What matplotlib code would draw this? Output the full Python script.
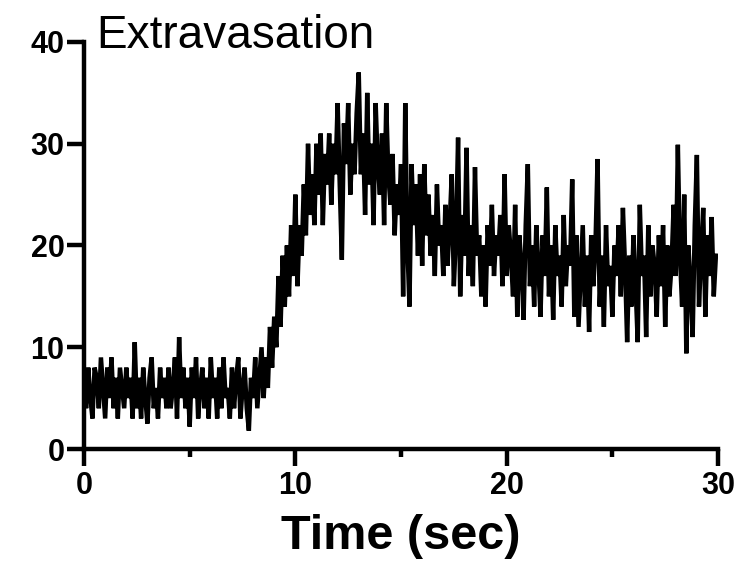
import numpy as np
import matplotlib.pyplot as plt
from matplotlib.ticker import MultipleLocator

# signal, one value every 0.1 s (0.0 .. 29.9)
extravasation = [
    6, 4, 8, 5, 3, 8, 7, 4, 9, 6,
    3, 8, 5, 9, 4, 7, 3, 8, 6, 4,
    8, 5, 7, 3, 10.5, 4, 7, 3, 8, 5,
    2.5, 7, 9, 4, 6, 3, 8, 5, 7, 4,
    8, 4, 6, 9, 3, 11, 5, 8, 4, 7,
    2.2, 8, 5, 9, 3, 6, 8, 4, 7, 3,
    9, 5, 7, 3, 8, 4, 9, 5, 6, 3,
    8, 4, 7, 9, 3, 6, 8, 4, 1.8, 7,
    5, 9, 4, 7, 10, 5, 9, 6, 12, 8,
    13, 10, 17, 12, 19, 14, 20, 15, 22, 17,
    25, 16, 22, 19, 26, 21, 30, 23, 27, 22,
    30, 25, 31, 22, 29, 26, 31, 24, 30, 27,
    34, 26, 18.6, 32, 28, 34, 25, 30, 27, 33,
    37, 27, 31, 23, 35, 26, 30, 22, 34, 28,
    25, 31, 22, 34, 27, 24, 29, 21, 26, 23,
    28, 15, 34, 20, 14, 28, 22, 26, 19, 27,
    18, 28, 21, 25, 19, 23, 17, 26, 20, 22,
    17, 24, 18, 22, 27, 16, 21, 30.6, 15, 23,
    19, 29.6, 17, 22, 16, 27.7, 19, 21, 15, 20,
    14, 22, 18, 24, 17, 21, 19, 23, 16, 27,
    17, 22, 19, 15, 24, 13, 21, 18, 12.7, 22,
    28, 16, 20, 14, 22, 18, 13, 21, 17, 25.7,
    15, 20, 12.7, 22, 17, 19, 14, 23, 16, 20,
    18, 26.5, 13, 21, 12, 17, 22, 14, 19, 11.5,
    21, 16, 20, 28.5, 14, 19, 12, 22, 16, 18,
    13, 20, 17, 22, 15, 23.7, 18, 10.5, 19, 14,
    21, 16, 10.5, 24, 17, 19, 11, 22, 15, 20,
    18, 13, 21, 16, 22, 12, 20, 15, 18, 24,
    17, 29.9, 19, 14, 25, 9.4, 20, 16, 11, 22,
    28.9, 14, 19, 23.7, 13, 21, 17, 22.8, 15, 19,
]
time_sec = np.arange(len(extravasation)) * 0.1

x_ticks = [0, 10, 20, 30]
y_ticks = [0, 10, 20, 30, 40]

plt.rcParams['font.family'] = ['Liberation Sans', 'DejaVu Sans']

fig = plt.figure(figsize=(7.39, 5.65), dpi=100)
ax = fig.add_axes([0.1137, 0.2053, 0.8579, 0.7204])

ax.plot(time_sec, extravasation, color='black', lw=3.2, solid_joinstyle='miter')

ax.set_xlim(0, 30)
ax.set_ylim(0, 40)
ax.set_xticks(x_ticks)
ax.set_yticks(y_ticks)
ax.xaxis.set_minor_locator(MultipleLocator(5))

for side in ('top', 'right'):
    ax.spines[side].set_visible(False)
for side in ('left', 'bottom'):
    ax.spines[side].set_linewidth(3.2)

ax.tick_params(which='major', direction='out', length=12, width=3.2,
               labelsize=22, pad=2)
ax.tick_params(axis='x', which='major', pad=4)
ax.tick_params(axis='x', which='minor', direction='out', length=6, width=3.2)
for lab in ax.get_xticklabels() + ax.get_yticklabels():
    lab.set_fontweight('bold')

ax.set_xlabel('Time (sec)', fontsize=35, fontweight='bold',
              family=['Liberation Sans Narrow', 'Liberation Sans'], labelpad=9)
ax.text(0.02, 1.015, 'Extravasation', transform=ax.transAxes,
        fontsize=33, ha='left', va='center')

fig.savefig('out.png', dpi=100)
